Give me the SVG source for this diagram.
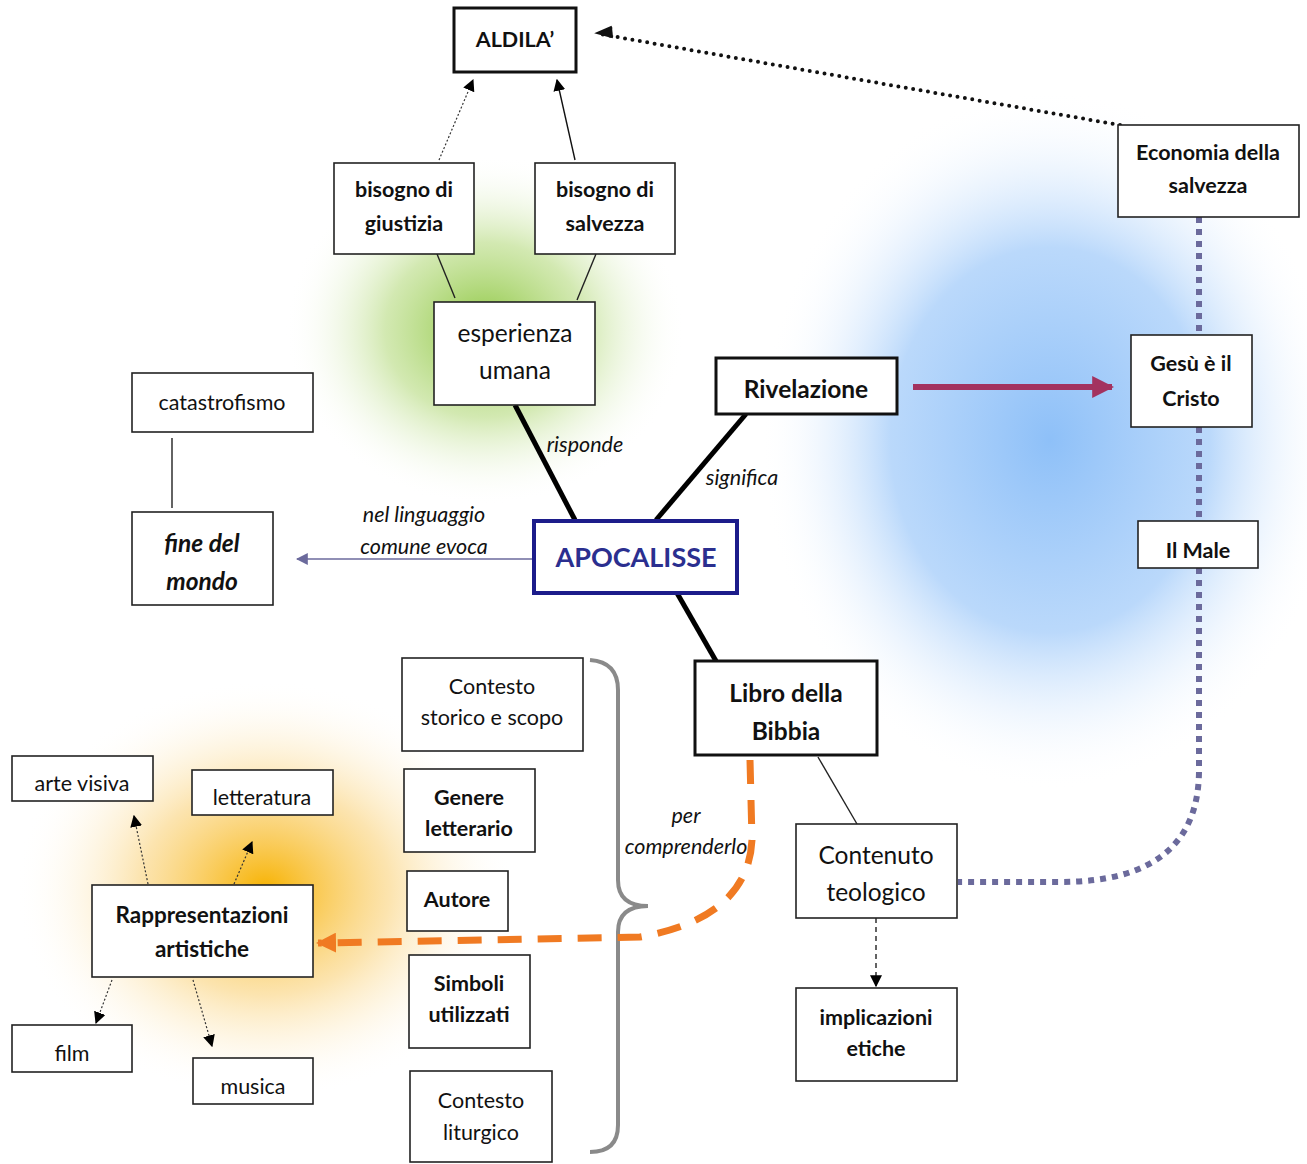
<svg xmlns="http://www.w3.org/2000/svg" width="1307" height="1164" viewBox="0 0 1307 1164">
<defs>
<radialGradient id="gGreen"><stop offset="0" stop-color="#8cc63f" stop-opacity="1"/><stop offset="0.5" stop-color="#b5da7e" stop-opacity="0.6"/><stop offset="1" stop-color="#ffffff" stop-opacity="0"/></radialGradient>
<radialGradient id="gBlue"><stop offset="0" stop-color="#8ec0f8" stop-opacity="1"/><stop offset="0.55" stop-color="#a9cffa" stop-opacity="0.8"/><stop offset="1" stop-color="#ffffff" stop-opacity="0"/></radialGradient>
<radialGradient id="gOrange"><stop offset="0" stop-color="#f7b200" stop-opacity="1"/><stop offset="0.5" stop-color="#fad27a" stop-opacity="0.6"/><stop offset="1" stop-color="#ffffff" stop-opacity="0"/></radialGradient>
<marker id="aBlack" viewBox="0 0 10 10" refX="9" refY="5" markerWidth="12" markerHeight="12" markerUnits="userSpaceOnUse" orient="auto"><path d="M0,0 L10,5 L0,10 z" fill="#000"/></marker>
<marker id="aMag" viewBox="0 0 10 10" refX="9" refY="5" markerWidth="22" markerHeight="24" markerUnits="userSpaceOnUse" orient="auto"><path d="M0,0 L10,5 L0,10 z" fill="#a3325f"/></marker>
<marker id="aPurp" viewBox="0 0 10 10" refX="9" refY="5" markerWidth="12" markerHeight="12" markerUnits="userSpaceOnUse" orient="auto"><path d="M0,0 L10,5 L0,10 z" fill="#6b6a9c"/></marker>
<marker id="aOrange" viewBox="0 0 10 10" refX="9" refY="5" markerWidth="20" markerHeight="20" markerUnits="userSpaceOnUse" orient="auto"><path d="M0,0 L10,5 L0,10 z" fill="#f07a22"/></marker>
</defs>
<style>
text{font-family:Lato,"Open Sans","Liberation Sans",sans-serif;fill:#111;text-anchor:middle}
.b{font-weight:bold}
.n{font-weight:normal}
.i{font-style:italic;font-size:21.5px}
.box{fill:#fff;stroke:#222;stroke-width:1.6}
.thick{fill:#fff;stroke:#111;stroke-width:3}
.t20{font-size:21.5px}
.t22{font-size:24.5px}
.thin{stroke:#222;stroke-width:1.4;fill:none}
.dotted{stroke:#333;stroke-width:1.2;stroke-dasharray:2 2;fill:none}
.heavy{stroke:#000;stroke-width:5;fill:none}
</style>
<rect width="1307" height="1164" fill="#fff"/>
<g id="glows">
<ellipse cx="485" cy="330" rx="200" ry="175" fill="url(#gGreen)"/>
<ellipse cx="1050" cy="440" rx="290" ry="350" fill="url(#gBlue)"/>
<ellipse cx="265" cy="890" rx="250" ry="210" fill="url(#gOrange)"/>
</g>
<g id="connectors">
<line x1="439" y1="160" x2="473" y2="80" class="dotted" marker-end="url(#aBlack)"/>
<line x1="575" y1="160" x2="557" y2="80" stroke="#111" stroke-width="1.4" marker-end="url(#aBlack)"/>
<line x1="437" y1="254" x2="455" y2="298" class="thin"/>
<line x1="596" y1="254" x2="577" y2="300" class="thin"/>
<path d="M1120,125 Q860,80 600,34" stroke="#111" stroke-width="4" stroke-linecap="round" stroke-dasharray="0 7.5" fill="none"/>
<path d="M613,37 L598,33 L612,27" fill="#111" stroke="#111" stroke-width="2.5"/>
<line x1="913" y1="387" x2="1112" y2="387" stroke="#a3325f" stroke-width="6" marker-end="url(#aMag)"/>
<path d="M1199,217 L1199,335 M1199,427 L1199,521 M1199,568 L1199,770 Q1199,882 1060,882 L958,882" stroke="#6b6a9c" stroke-width="6" stroke-dasharray="6 6" fill="none"/>
<line x1="172" y1="438" x2="172" y2="508" class="thin"/>
<line x1="533" y1="559" x2="297" y2="559" stroke="#6b6a9c" stroke-width="1.6" marker-end="url(#aPurp)"/>
<line x1="515" y1="405" x2="575" y2="520" class="heavy"/>
<line x1="746" y1="414" x2="656" y2="520" class="heavy"/>
<line x1="677" y1="593" x2="716" y2="661" class="heavy"/>
<line x1="818" y1="757" x2="857" y2="824" class="thin"/>
<line x1="876" y1="918" x2="876" y2="986" stroke="#222" stroke-width="1.4" stroke-dasharray="5 4" marker-end="url(#aBlack)"/>
<path d="M590,660 Q618,662 618,690 L618,880 Q618,906 648,906 Q618,906 618,932 L618,1125 Q618,1152 590,1152" stroke="#8a8a8a" stroke-width="4" fill="none"/>
<path d="M750,760 L752,840 Q748,918 640,937 L318,943" stroke="#f07a22" stroke-width="7" stroke-dasharray="24 16" fill="none" marker-end="url(#aOrange)"/>
<line x1="148" y1="884" x2="134" y2="816" class="dotted" marker-end="url(#aBlack)"/>
<line x1="234" y1="884" x2="252" y2="842" class="dotted" marker-end="url(#aBlack)"/>
<line x1="112" y1="980" x2="96" y2="1023" class="dotted" marker-end="url(#aBlack)"/>
<line x1="193" y1="980" x2="212" y2="1046" class="dotted" marker-end="url(#aBlack)"/>
<text class="i" x="585" y="452">risponde</text>
<text class="i" x="742" y="485">significa</text>
<text class="i" x="424" y="522">nel linguaggio</text>
<text class="i" x="424" y="554">comune evoca</text>
<text class="i" x="686" y="823">per</text>
<text class="i" x="686" y="854">comprenderlo</text>
</g>
<g id="n-aldila"><rect class="thick" x="454" y="8" width="122" height="64"/><text class="b t20" x="515" y="47">ALDILA’</text></g>
<g id="n-giustizia"><rect class="box" x="334" y="163" width="140" height="91"/><text class="b t20" x="404" y="197">bisogno di</text><text class="b t20" x="404" y="231">giustizia</text></g>
<g id="n-salvezza"><rect class="box" x="535" y="163" width="140" height="91"/><text class="b t20" x="605" y="197">bisogno di</text><text class="b t20" x="605" y="231">salvezza</text></g>
<g id="n-esperienza"><rect class="box" x="434" y="302" width="161" height="103"/><text class="n t22" x="515" y="342">esperienza</text><text class="n t22" x="515" y="379">umana</text></g>
<g id="n-rivelazione"><rect class="thick" x="716" y="358" width="181" height="56"/><text class="b t22" x="806" y="398">Rivelazione</text></g>
<g id="n-economia"><rect class="box" x="1118" y="125" width="181" height="92"/><text class="b t20" x="1208" y="160">Economia della</text><text class="b t20" x="1208" y="193">salvezza</text></g>
<g id="n-gesu"><rect class="box" x="1131" y="335" width="121" height="92"/><text class="b t20" x="1191" y="371">Gesù è il</text><text class="b t20" x="1191" y="406">Cristo</text></g>
<g id="n-male"><rect class="box" x="1138" y="521" width="120" height="47"/><text class="b t20" x="1198" y="558">Il Male</text></g>
<g id="n-catastrofismo"><rect class="box" x="132" y="373" width="181" height="59"/><text class="n t20" x="222" y="410">catastrofismo</text></g>
<g id="n-fine"><rect class="box" x="132" y="512" width="141" height="93"/><text class="b t22" font-style="italic" x="202" y="552">fine del</text><text class="b t22" font-style="italic" x="202" y="590">mondo</text></g>
<g id="n-apocalisse"><rect x="534" y="521" width="203" height="72" fill="#fff" stroke="#1c1c8a" stroke-width="4"/><text class="b" font-size="27" x="636" y="567" style="fill:#2b2f8f">APOCALISSE</text></g>
<g id="n-libro"><rect class="thick" x="695" y="661" width="182" height="94"/><text class="b t22" x="786" y="702">Libro della</text><text class="b t22" x="786" y="740">Bibbia</text></g>
<g id="n-contenuto"><rect class="box" x="796" y="824" width="161" height="94"/><text class="n t22" x="876" y="864">Contenuto</text><text class="n t22" x="876" y="901">teologico</text></g>
<g id="n-implicazioni"><rect class="box" x="796" y="988" width="161" height="93" stroke-width="2"/><text class="b t20" x="876" y="1025">implicazioni</text><text class="b t20" x="876" y="1056">etiche</text></g>
<g id="n-storico"><rect class="box" x="402" y="658" width="181" height="93"/><text class="n t20" x="492" y="694">Contesto</text><text class="n t20" x="492" y="725">storico e scopo</text></g>
<g id="n-genere"><rect class="box" x="404" y="769" width="131" height="83"/><text class="b t20" x="469" y="805">Genere</text><text class="b t20" x="469" y="836">letterario</text></g>
<g id="n-autore"><rect class="box" x="407" y="871" width="101" height="60"/><text class="b t20" x="457" y="907">Autore</text></g>
<g id="n-simboli"><rect class="box" x="409" y="955" width="121" height="93"/><text class="b t20" x="469" y="991">Simboli</text><text class="b t20" x="469" y="1022">utilizzati</text></g>
<g id="n-liturgico"><rect class="box" x="410" y="1071" width="142" height="91"/><text class="n t20" x="481" y="1108">Contesto</text><text class="n t20" x="481" y="1140">liturgico</text></g>
<g id="n-rappresentazioni"><rect class="box" x="92" y="885" width="221" height="92"/><text class="b" font-size="22.5" x="202" y="923">Rappresentazioni</text><text class="b" font-size="22.5" x="202" y="957">artistiche</text></g>
<g id="n-arte"><rect class="box" x="12" y="756" width="141" height="45"/><text class="n t20" x="82" y="791">arte visiva</text></g>
<g id="n-letteratura"><rect class="box" x="192" y="770" width="141" height="45"/><text class="n t20" x="262" y="805">letteratura</text></g>
<g id="n-film"><rect class="box" x="12" y="1025" width="120" height="47"/><text class="n t20" x="72" y="1061">film</text></g>
<g id="n-musica"><rect class="box" x="193" y="1058" width="120" height="46"/><text class="n t20" x="253" y="1094">musica</text></g>
</svg>
